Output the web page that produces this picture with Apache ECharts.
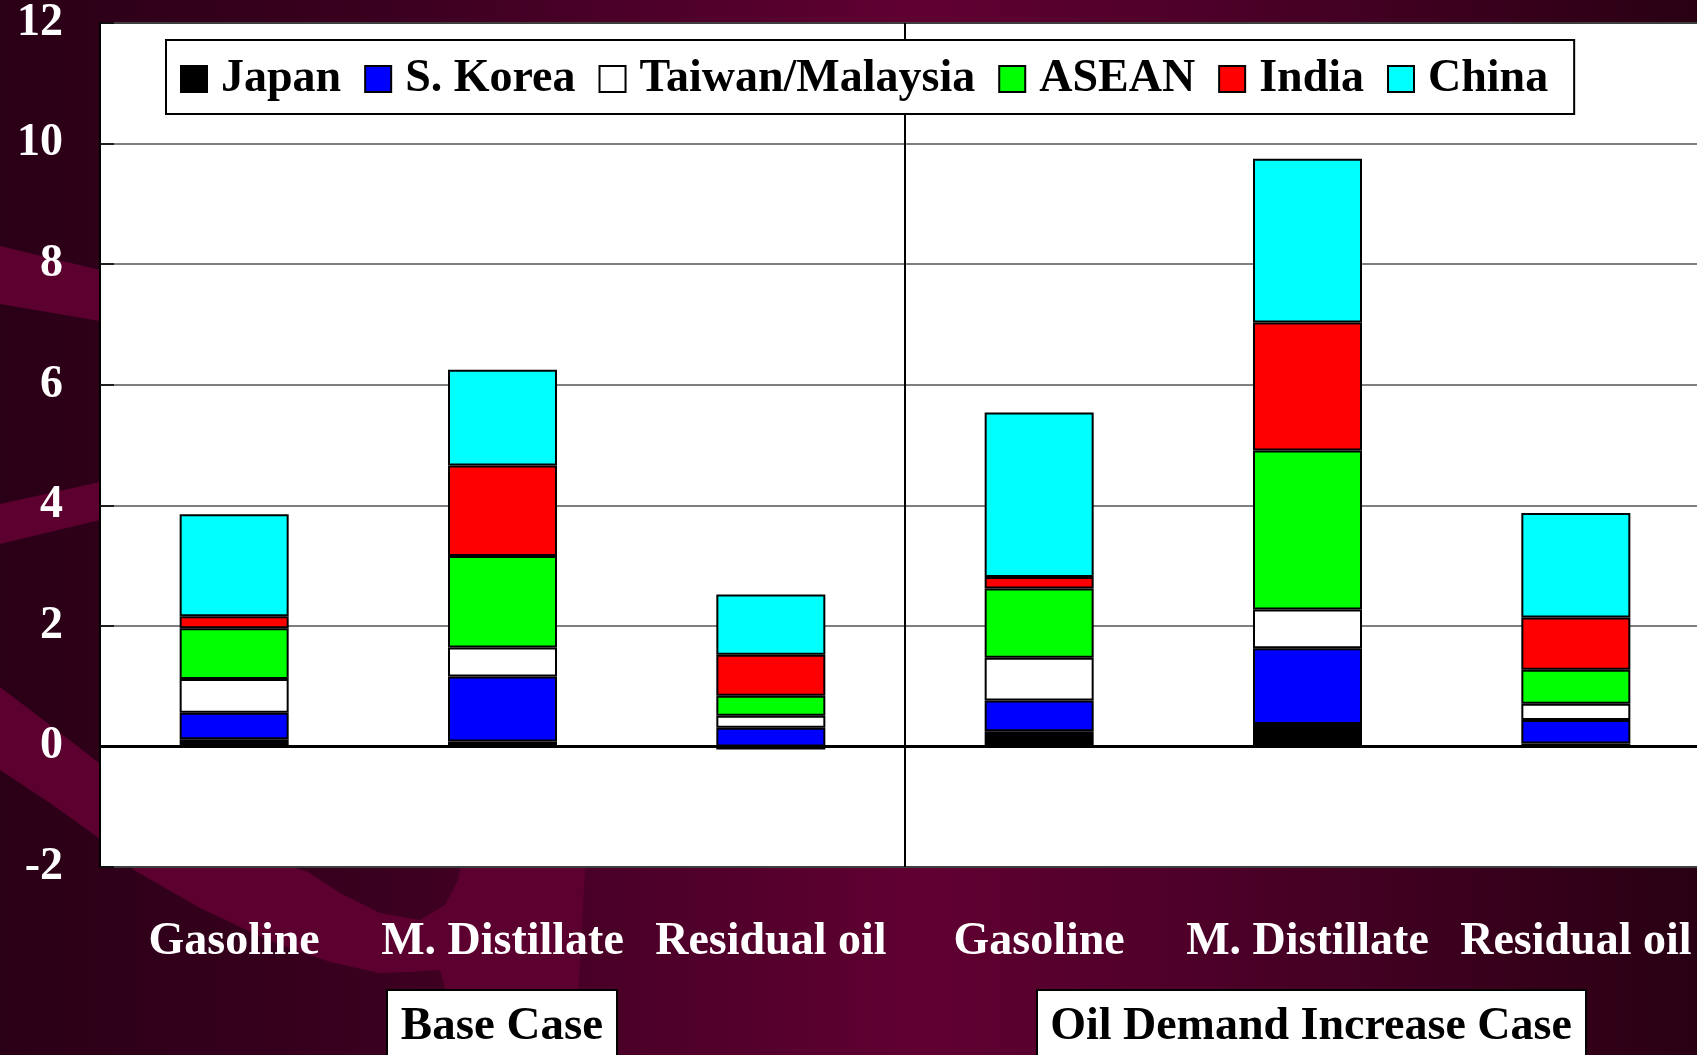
<!DOCTYPE html>
<html>
<head>
<meta charset="utf-8">
<script src="https://cdn.jsdelivr.net/npm/echarts@6/dist/echarts.min.js"></script>
<style>
  html, body { margin: 0; padding: 0; background: #2a0016; overflow: hidden; }
  #chart { width: 1712px; height: 1055px; }
</style>
</head>
<body>
<div id="chart"></div>
<script>
// Product categories: three products for each scenario
const categories = ['Gasoline', 'M. Distillate', 'Residual oil', 'Gasoline', 'M. Distillate', 'Residual oil'];
const caseLabels = ['Base Case', 'Oil Demand Increase Case'];

// Region names (stack order, bottom to top) and their fill colours
const regionNames = ['Japan', 'S. Korea', 'Taiwan/Malaysia', 'ASEAN', 'India', 'China'];
const regionColors = ['#000000', '#0000ff', '#ffffff', '#00ff00', '#ff0000', '#00ffff'];

// Values per category, same order as `categories`
const japan          = [0.12, 0.08, -0.05, 0.25, 0.37, 0.05];
const sKorea         = [0.44, 1.08,  0.31, 0.51, 1.26, 0.39];
const taiwanMalaysia = [0.56, 0.48,  0.20, 0.71, 0.64, 0.27];
const asean          = [0.84, 1.52,  0.33, 1.15, 2.64, 0.56];
const india          = [0.20, 1.50,  0.68, 0.19, 2.12, 0.87];
const china          = [1.69, 1.59,  1.00, 2.73, 2.72, 1.73];

// Value axis range
const yMin = -2, yMax = 12, yStep = 2;

const regionValues = [japan, sKorea, taiwanMalaysia, asean, india, china];

const serifFamily = '"Liberation Serif", "Times New Roman", serif';
const serifBold = 'bold 46px ' + serifFamily;
const swooshFill = '#5c002f';

const series = regionNames.map((name, i) => {
  const s = {
    name: name,
    type: 'bar',
    stack: 'total',
    barWidth: 109,
    data: regionValues[i],
    itemStyle: { color: regionColors[i], borderColor: '#000', borderWidth: 2 },
    emphasis: { disabled: true }
  };
  if (i === 0) {
    // heavy zero baseline across the plot
    s.markLine = {
      silent: true,
      symbol: 'none',
      label: { show: false },
      lineStyle: { color: '#000', width: 3, type: 'solid' },
      data: [{ yAxis: 0 }]
    };
  }
  return s;
});

const chart = echarts.init(document.getElementById('chart'), null, { renderer: 'canvas' });

chart.setOption({
  animation: false,
  backgroundColor: {
    type: 'linear', x: 0, y: 0, x2: 1, y2: 0,
    colorStops: [
      { offset: 0, color: '#2a0016' },
      { offset: 0.22, color: '#3a001f' },
      { offset: 0.54, color: '#600032' },
      { offset: 0.78, color: '#440023' },
      { offset: 1, color: '#280012' }
    ]
  },
  graphic: [
    // decorative lighter swooshes in the backdrop
    { id: 'bandTop', type: 'polygon', z: -1, silent: true,
      shape: { points: [[0, 246], [100, 270], [100, 321], [0, 304]] },
      style: { fill: swooshFill } },
    { id: 'bandMid', type: 'polygon', z: -1, silent: true,
      shape: { points: [[0, 504], [100, 482], [100, 520], [0, 544]] },
      style: { fill: swooshFill } },
    { id: 'bandLow', type: 'polygon', z: -1, silent: true,
      shape: { points: [
        [0, 687], [50, 725], [99, 763], [150, 800], [200, 830], [255, 855], [308, 872],
        [340, 893], [380, 913], [420, 920], [445, 905], [458, 880], [465, 840], [470, 760],
        [590, 760], [585, 870], [580, 960], [575, 1060], [450, 1060],
        [448, 1000], [440, 970], [410, 972], [379, 973], [330, 962], [268, 940],
        [200, 908], [160, 885], [134, 870], [99, 838], [50, 803], [0, 770]
      ] },
      style: { fill: swooshFill } },
    // scenario captions under the axis labels
    { id: 'baseBox', type: 'rect', silent: true,
      shape: { x: 387, y: 990, width: 230, height: 90 },
      style: { fill: '#fff', stroke: '#000', lineWidth: 2 } },
    { id: 'baseText', type: 'text', silent: true,
      style: { text: caseLabels[0], x: 502, y: 1027, align: 'center', verticalAlign: 'middle', font: 'bold 47px ' + serifFamily, fill: '#000' } },
    { id: 'highBox', type: 'rect', silent: true,
      shape: { x: 1037, y: 990, width: 549, height: 90 },
      style: { fill: '#fff', stroke: '#000', lineWidth: 2 } },
    { id: 'highText', type: 'text', silent: true,
      style: { text: caseLabels[1], x: 1311, y: 1027, align: 'center', verticalAlign: 'middle', font: serifBold, fill: '#000' } }
  ],
  legend: {
    left: 166,
    top: 40,
    z: 20,
    orient: 'horizontal',
    icon: 'rect',
    itemWidth: 26,
    itemHeight: 26,
    itemGap: 23,
    padding: [16, 26, 12, 14],
    backgroundColor: '#fff',
    borderColor: '#000',
    borderWidth: 2,
    itemStyle: { borderColor: '#000', borderWidth: 2 },
    textStyle: {
      fontFamily: serifFamily,
      fontWeight: 'bold',
      fontSize: 46,
      color: '#000',
      lineHeight: 46,
      padding: [0, 0, 0, 9]
    },
    selectedMode: false,
    data: regionNames
  },
  grid: {
    show: true,
    left: 100,
    top: 22,
    right: 2,
    bottom: 188,
    backgroundColor: '#fff',
    borderColor: '#000',
    borderWidth: 2
  },
  xAxis: {
    type: 'category',
    data: categories,
    position: 'bottom',
    axisLine: { show: false, onZero: false },
    axisTick: { show: false },
    axisLabel: {
      color: '#fff',
      fontFamily: serifFamily,
      fontWeight: 'bold',
      fontSize: 46,
      margin: 52,
      interval: 0
    },
    splitLine: { show: false }
  },
  yAxis: {
    type: 'value',
    min: yMin,
    max: yMax,
    interval: yStep,
    axisLine: { show: false },
    axisTick: { show: true, inside: true, length: 14, lineStyle: { color: '#000', width: 1.5 } },
    axisLabel: {
      color: '#fff',
      fontFamily: serifFamily,
      fontWeight: 'bold',
      fontSize: 46,
      margin: 37
    },
    splitLine: { show: true, lineStyle: { color: '#555', width: 1.5 } }
  },
  series: series
});

// Divider between the two scenarios: halfway between the last base-case
// category and the first demand-increase category, spanning the full value range.
const xLeft = chart.convertToPixel({ xAxisIndex: 0 }, 2);
const xRight = chart.convertToPixel({ xAxisIndex: 0 }, 3);
const yTop = chart.convertToPixel({ yAxisIndex: 0 }, yMax);
const yBottom = chart.convertToPixel({ yAxisIndex: 0 }, yMin);
const xDivider = (xLeft + xRight) / 2;
chart.setOption({
  graphic: [
    { id: 'divider', type: 'line', z: 1, silent: true,
      shape: { x1: xDivider, y1: yTop, x2: xDivider, y2: yBottom },
      style: { stroke: '#000', lineWidth: 2 } }
  ]
});
</script>
</body>
</html>
